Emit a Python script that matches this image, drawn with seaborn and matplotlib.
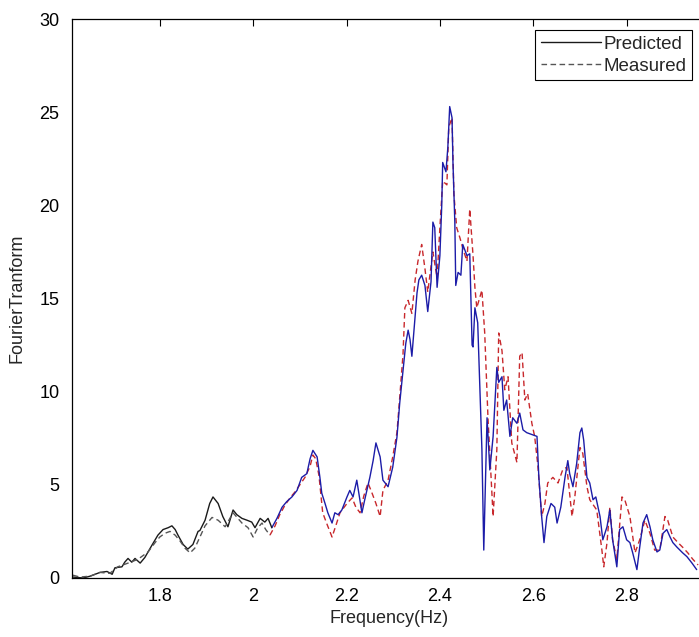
import numpy as np
import pandas as pd
import matplotlib
matplotlib.use("Agg")
import matplotlib.pyplot as plt
import seaborn as sns

# ---------------- data ----------------
pred_freq = [1.614, 1.636, 1.651, 1.672, 1.687, 1.698, 1.704, 1.719, 1.725, 1.732,
             1.740, 1.747, 1.758, 1.768, 1.783, 1.796, 1.807, 1.818, 1.826, 1.833,
             1.839, 1.850, 1.860, 1.871, 1.882, 1.886, 1.897, 1.907, 1.914, 1.925,
             1.935, 1.946, 1.957, 1.965, 1.976, 1.987, 1.997, 2.004, 2.015, 2.025,
             2.032, 2.040, 2.051, 2.062, 2.072, 2.083, 2.094, 2.104, 2.115, 2.122,
             2.128, 2.137, 2.143, 2.147, 2.154, 2.160, 2.169, 2.175, 2.182, 2.190,
             2.201, 2.207, 2.214, 2.222, 2.233, 2.239, 2.250, 2.257, 2.263, 2.272,
             2.278, 2.289, 2.299, 2.308, 2.314, 2.321, 2.327, 2.332, 2.336, 2.340,
             2.344, 2.351, 2.355, 2.361, 2.368, 2.374, 2.381, 2.385, 2.389, 2.394,
             2.400, 2.404, 2.406, 2.413, 2.417, 2.421, 2.426, 2.428, 2.432, 2.434,
             2.439, 2.445, 2.449, 2.458, 2.464, 2.469, 2.471, 2.475, 2.481, 2.490,
             2.494, 2.501, 2.507, 2.514, 2.522, 2.526, 2.533, 2.537, 2.543, 2.550,
             2.556, 2.565, 2.571, 2.578, 2.586, 2.597, 2.608, 2.612, 2.618, 2.623,
             2.629, 2.638, 2.646, 2.651, 2.659, 2.668, 2.674, 2.678, 2.685, 2.693,
             2.700, 2.704, 2.708, 2.715, 2.721, 2.728, 2.734, 2.743, 2.749, 2.758,
             2.764, 2.770, 2.779, 2.785, 2.792, 2.800, 2.807, 2.813, 2.822, 2.828,
             2.835, 2.843, 2.850, 2.856, 2.865, 2.871, 2.878, 2.886, 2.893, 2.899,
             2.908, 2.914, 2.920, 2.929, 2.940, 2.950]
pred_amp = [0.05, 0.0, 0.1, 0.3, 0.35, 0.2, 0.55, 0.6, 0.85, 1.05,
            0.85, 1.05, 0.8, 1.1, 1.75, 2.3, 2.6, 2.7, 2.8, 2.6,
            2.3, 1.8, 1.55, 1.8, 2.5, 2.55, 3.1, 4.0, 4.35, 4.0,
            3.3, 2.75, 3.65, 3.4, 3.2, 3.1, 3.0, 2.7, 3.2, 3.0,
            3.2, 2.7, 3.2, 3.8, 4.1, 4.35, 4.7, 5.4, 5.6, 6.4,
            6.85, 6.5, 5.4, 4.55, 4.0, 3.5, 2.95, 3.5, 3.4, 3.65,
            4.35, 4.7, 4.35, 5.25, 3.5, 4.2, 5.4, 6.3, 7.25, 6.5,
            5.25, 4.9, 5.95, 7.55, 9.4, 11.15, 12.6, 13.3, 12.8, 11.9,
            13.15, 15.3, 16.0, 16.25, 15.7, 14.3, 15.9, 19.1, 18.8, 15.6,
            17.3, 20.0, 22.3, 21.8, 23.1, 25.3, 24.7, 22.3, 19.1, 15.7,
            16.4, 16.25, 17.9, 17.3, 17.4, 12.5, 12.4, 14.5, 13.7, 6.9,
            1.5, 8.6, 5.8, 7.6, 11.3, 10.5, 10.8, 9.0, 9.55, 7.6,
            8.6, 8.3, 8.85, 7.95, 7.8, 7.7, 7.6, 5.4, 3.3, 1.9,
            3.3, 4.0, 3.8, 2.95, 3.8, 5.4, 6.3, 5.6, 4.9, 6.15,
            7.8, 8.05, 7.4, 5.4, 5.1, 4.2, 4.35, 3.3, 2.05, 2.75,
            3.65, 2.05, 0.6, 2.6, 2.75, 2.05, 1.9, 1.35, 0.45, 1.65,
            2.95, 3.4, 2.75, 2.05, 1.4, 1.5, 2.4, 2.6, 2.2, 1.9,
            1.65, 1.5, 1.35, 1.15, 0.8, 0.45]

meas_freq = [1.614, 1.629, 1.651, 1.672, 1.693, 1.710, 1.732, 1.753, 1.775, 1.790,
             1.800, 1.811, 1.822, 1.833, 1.843, 1.854, 1.865, 1.875, 1.886, 1.897,
             1.912, 1.925, 1.940, 1.957, 1.976, 1.989, 2.000, 2.010, 2.019, 2.027,
             2.036, 2.047, 2.057, 2.068, 2.079, 2.089, 2.100, 2.111, 2.122, 2.128,
             2.134, 2.141, 2.149, 2.158, 2.169, 2.177, 2.186, 2.201, 2.212, 2.220,
             2.229, 2.237, 2.246, 2.254, 2.263, 2.272, 2.278, 2.289, 2.299, 2.308,
             2.314, 2.321, 2.325, 2.332, 2.340, 2.347, 2.353, 2.361, 2.368, 2.374,
             2.385, 2.394, 2.400, 2.406, 2.415, 2.419, 2.426, 2.430, 2.436, 2.443,
             2.449, 2.458, 2.464, 2.471, 2.475, 2.479, 2.490, 2.496, 2.503, 2.514,
             2.522, 2.526, 2.533, 2.539, 2.546, 2.554, 2.565, 2.571, 2.576, 2.582,
             2.588, 2.597, 2.603, 2.610, 2.618, 2.625, 2.631, 2.642, 2.653, 2.663,
             2.672, 2.683, 2.689, 2.700, 2.706, 2.715, 2.721, 2.736, 2.747, 2.751,
             2.758, 2.764, 2.770, 2.779, 2.790, 2.796, 2.807, 2.818, 2.828, 2.839,
             2.850, 2.860, 2.871, 2.882, 2.888, 2.899, 2.910, 2.920, 2.931, 2.942,
             2.953]
meas_amp = [0.15, 0.05, 0.1, 0.3, 0.25, 0.6, 0.8, 1.0, 1.4, 1.9,
            2.2, 2.4, 2.5, 2.3, 2.0, 1.6, 1.35, 1.6, 2.2, 2.8,
            3.25, 3.1, 2.75, 3.5, 2.95, 2.7, 2.2, 2.7, 2.95, 2.6,
            2.3, 2.8, 3.4, 3.9, 4.3, 4.6, 5.0, 5.4, 6.0, 6.6,
            6.4, 5.5, 3.5, 2.9, 2.2, 2.8, 3.5, 4.0, 4.3, 3.8,
            3.5, 4.4, 5.1, 4.6, 4.0, 3.3, 4.7, 5.25, 6.5, 7.8,
            9.7, 12.0, 14.5, 14.9, 14.2, 16.0, 17.0, 17.9, 16.6, 15.35,
            17.5, 16.1, 18.8, 21.3, 21.1, 24.2, 24.7, 20.6, 18.8, 18.25,
            17.7, 17.0, 19.8, 17.3, 15.6, 14.5, 15.45, 13.15, 8.6, 3.3,
            6.9, 13.15, 12.2, 10.1, 10.8, 7.25, 6.2, 11.9, 12.1, 9.55,
            9.9, 8.3, 7.6, 6.0, 3.3, 4.0, 5.1, 5.4, 5.1, 5.8,
            5.95, 3.3, 4.35, 7.0, 6.7, 4.9, 4.2, 3.65, 1.5, 0.6,
            1.9, 3.8, 2.05, 1.0, 4.35, 4.2, 3.3, 1.35, 2.05, 3.1,
            2.4, 1.5, 1.5, 3.3, 3.1, 2.2, 1.9, 1.65, 1.35, 1.0,
            0.7]

x_ticks = [1.8, 2.0, 2.2, 2.4, 2.6, 2.8]
x_tick_labels = ["1.8", "2", "2.2", "2.4", "2.6", "2.8"]
y_ticks = [0, 5, 10, 15, 20, 25, 30]
split_freq = 2.040   # left part of both traces is drawn in black

# ---------------- figure ----------------
sns.set_theme(style="white")
plt.rcParams["font.family"] = ["Liberation Sans", "DejaVu Sans"]

fig = plt.figure(figsize=(6.99, 6.37), dpi=100)
ax = fig.add_axes([72 / 699, 1 - 578 / 637, 634 / 699, 559 / 637])

pred = pd.DataFrame({"f": pred_freq, "a": pred_amp})
meas = pd.DataFrame({"f": meas_freq, "a": meas_amp})

pred_left = pred[pred.f <= split_freq]
pred_right = pred[pred.f >= split_freq - 0.0001]
meas_left = meas[meas.f <= split_freq]
meas_right = meas[meas.f >= 2.036 - 0.0001]

sns.lineplot(data=meas_right, x="f", y="a", ax=ax, color="#c8282c",
             linewidth=1.0, sort=False, linestyle=(0, (4, 2.5)))
sns.lineplot(data=pred_right, x="f", y="a", ax=ax, color="#1c1ca8",
             linewidth=1.0, sort=False)
sns.lineplot(data=pred_left, x="f", y="a", ax=ax, color="#1a1a1a",
             linewidth=1.0, sort=False, label="Predicted")
sns.lineplot(data=meas_left, x="f", y="a", ax=ax, color="#555555",
             linewidth=1.0, sort=False, linestyle=(0, (4, 2.5)), label="Measured")

ax.set_xlim(1.612, 2.970)
ax.set_ylim(0, 30)
ax.set_xticks(x_ticks)
ax.set_xticklabels(x_tick_labels)
ax.set_yticks(y_ticks)
ax.tick_params(direction="in", length=5, width=0.8, top=True, right=True,
               labelsize=13, colors="black")
ax.tick_params(axis="y", pad=9)
ax.tick_params(axis="x", pad=7)
for sp in ax.spines.values():
    sp.set_color("black")
    sp.set_linewidth(0.9)
ax.set_xlabel("Frequency(Hz)", fontsize=13, labelpad=4)
ax.set_ylabel("FourierTranform", fontsize=13, labelpad=10)

leg = ax.legend(loc="upper right", bbox_to_anchor=(0.978, 0.980),
                borderaxespad=0, fontsize=13.5, handlelength=3.2,
                handletextpad=0.15, borderpad=0.3, labelspacing=0.25,
                frameon=True, fancybox=False, framealpha=1)
leg.get_frame().set_edgecolor("black")
leg.get_frame().set_linewidth(0.8)

fig.savefig("out.png", dpi=100)
